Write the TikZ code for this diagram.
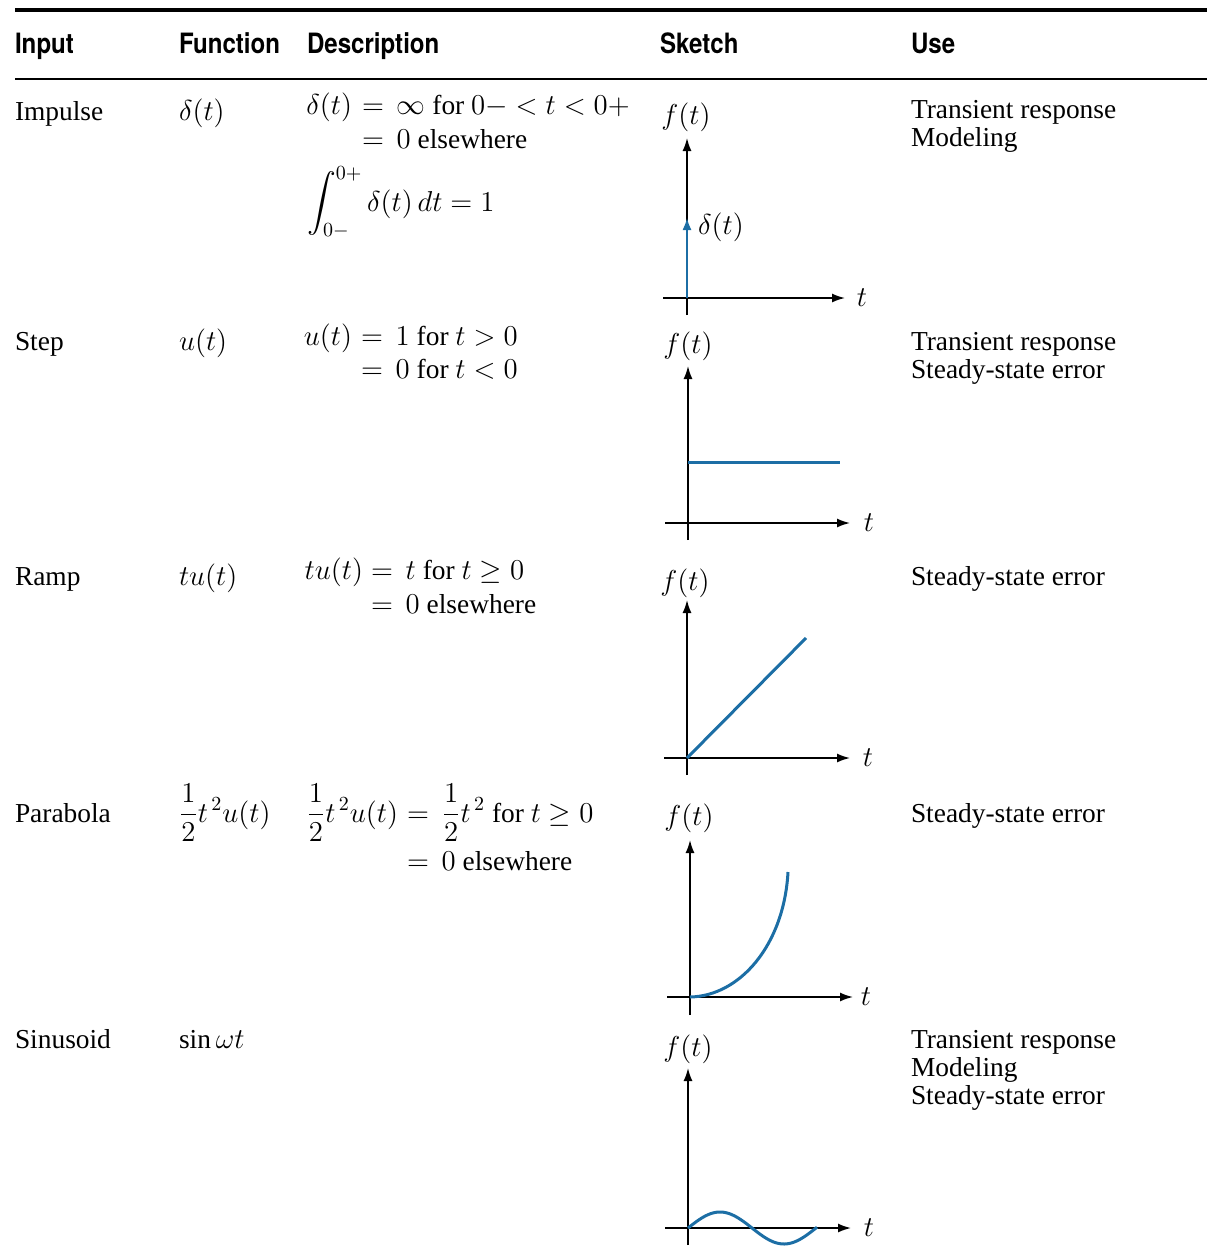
\documentclass[tikz,border=0pt]{standalone}
\usepackage{amsmath}
\usepackage{fontspec}
\setmainfont{Liberation Serif}
\newfontfamily\hdrfont{TeX Gyre Heros}[FakeStretch=0.86]
\usetikzlibrary{arrows.meta}
\definecolor{plotblue}{RGB}{28,110,165}
\begin{document}
\begin{tikzpicture}[x=0.5pt,y=-0.5pt,
  every node/.style={inner sep=0pt,outer sep=0pt,font=\fontsize{13.7}{16}\selectfont},
  hdr/.style={anchor=base west,font=\hdrfont\bfseries\fontsize{14}{16}\selectfont},
  cell/.style={anchor=base west},
  lhs/.style={anchor=base east},
  axisarrow/.style={line width=0.8pt,-{Latex[length=6.5pt,width=4.5pt]}},
  curve/.style={plotblue,line width=1.5pt},
  lbl/.style={anchor=center}]
\useasboundingbox (0,0) rectangle (1207,1258);
% rules
\coordinate (r1a) at (15,10); \coordinate (r1b) at (1207,10);
\coordinate (r2a) at (15,79); \coordinate (r2b) at (1207,79);
\draw[line width=2pt] (r1a) -- (r1b);
\draw[line width=1.4pt] (r2a) -- (r2b);
% headers
\node[hdr] (h1) at (15,54) {Input};
\node[hdr] (h2) at (179,54) {Function};
\node[hdr] (h3) at (307,54) {Description};
\node[hdr] (h4) at (660,54) {Sketch};
\node[hdr] (h5) at (911,54) {Use};
% row 1
\node[cell] (in1) at (15,120) {Impulse};
\node[cell] (fn1) at (179,120) {$\delta(t)$};
\node[lhs] (d1a) at (352,114) {$\delta(t)$};
\node[cell] (d1b) at (362,114) {$=\,\infty$ for $0{-} < t < 0{+}$};
\node[cell] (d1c) at (362,148) {$=\,0$ elsewhere};
\node[cell] (d1d) at (307,211) {$\displaystyle\int_{0-}^{0+}\delta(t)\,dt = 1$};
\node[cell] (u1a) at (911,118) {Transient response};
\node[cell] (u1b) at (911,146) {Modeling};
% row 2
\node[cell] (in2) at (15,350) {Step};
\node[cell] (fn2) at (179,350) {$u(t)$};
\node[lhs] (d2a) at (352,345) {$u(t)$};
\node[cell] (d2b) at (361,345) {$=\,1$ for $t>0$};
\node[cell] (d2c) at (361,378) {$=\,0$ for $t<0$};
\node[cell] (u2a) at (911,350) {Transient response};
\node[cell] (u2b) at (911,378) {Steady-state error};
% row 3
\node[cell] (in3) at (15,585) {Ramp};
\node[cell] (fn3) at (179,585) {$tu(t)$};
\node[lhs] (d3a) at (363,579) {$tu(t)$};
\node[cell] (d3b) at (371,579) {$=\,t$ for $t \geq 0$};
\node[cell] (d3c) at (371,613) {$=\,0$ elsewhere};
\node[cell] (u3a) at (911,585) {Steady-state error};
% row 4
\node[cell] (in4) at (15,822) {Parabola};
\node[cell] (fn4) at (179,822) {$\displaystyle\frac{1}{2}t^{\,2}u(t)$};
\node[lhs] (d4a) at (398,822) {$\displaystyle\frac{1}{2}t^{\,2}u(t)$};
\node[cell] (d4b) at (407,822) {$=\,\displaystyle\frac{1}{2}t^{\,2}$ for $t \geq 0$};
\node[cell] (d4c) at (407,870) {$=\,0$ elsewhere};
\node[cell] (u4a) at (911,822) {Steady-state error};
% row 5
\node[cell] (in5) at (15,1048) {Sinusoid};
\node[cell] (fn5) at (179,1048) {$\sin\omega t$};
\node[cell] (u5a) at (911,1048) {Transient response};
\node[cell] (u5b) at (911,1076) {Modeling};
\node[cell] (u5c) at (911,1104) {Steady-state error};
% sketch 1: impulse
\coordinate (s1b) at (687,315); \coordinate (s1t) at (687,138);
\coordinate (s1l) at (663,298); \coordinate (s1r) at (845,298);
\coordinate (s1o) at (687,298); \coordinate (s1i) at (687,218);
\draw[axisarrow] (s1b) -- (s1t);
\draw[axisarrow] (s1l) -- (s1r);
\draw[plotblue,line width=0.8pt,-{Latex[length=6pt,width=4.5pt]}] (s1o) -- (s1i);
\node[lbl] (s1f) at (686,117) {$f(t)$};
\node[lbl] (s1x) at (862,298) {$t$};
\node[lbl] (s1d) at (721,227) {$\delta(t)$};
% sketch 2: step
\coordinate (s2b) at (688,540); \coordinate (s2t) at (688,366);
\coordinate (s2l) at (665,523); \coordinate (s2r) at (850,523);
\coordinate (s2p) at (688,462); \coordinate (s2q) at (840,462);
\draw[axisarrow] (s2b) -- (s2t);
\draw[axisarrow] (s2l) -- (s2r);
\draw[curve] (s2p) -- (s2q);
\node[lbl] (s2f) at (688,346) {$f(t)$};
\node[lbl] (s2x) at (869,523) {$t$};
% sketch 3: ramp
\coordinate (s3b) at (687,775); \coordinate (s3t) at (687,600);
\coordinate (s3l) at (664,758); \coordinate (s3r) at (850,758);
\coordinate (s3o) at (687,758); \coordinate (s3e) at (806,638);
\draw[axisarrow] (s3b) -- (s3t);
\draw[axisarrow] (s3l) -- (s3r);
\draw[curve] (s3o) -- (s3e);
\node[lbl] (s3f) at (685,583) {$f(t)$};
\node[lbl] (s3x) at (868,758) {$t$};
% sketch 4: parabola
\coordinate (s4b) at (690,1015); \coordinate (s4t) at (690,840);
\coordinate (s4l) at (667,997); \coordinate (s4r) at (853,997);
\coordinate (s4o) at (690,997); \coordinate (s4e) at (788,872);
\draw[axisarrow] (s4b) -- (s4t);
\draw[axisarrow] (s4l) -- (s4r);
\draw[curve] (s4o) .. controls (740,996) and (784,945) .. (s4e);
\node[lbl] (s4f) at (689,818) {$f(t)$};
\node[lbl] (s4x) at (866,997) {$t$};
% sketch 5: sinusoid
\coordinate (s5b) at (688,1245); \coordinate (s5t) at (688,1068);
\coordinate (s5l) at (665,1228); \coordinate (s5r) at (851,1228);
\draw[axisarrow] (s5b) -- (s5t);
\draw[axisarrow] (s5l) -- (s5r);
\draw[curve] plot[domain=0:129,samples=60,smooth] ({688+\x},{1228-16*sin(\x*2.8125)});
\node[lbl] (s5f) at (688,1049) {$f(t)$};
\node[lbl] (s5x) at (869,1228) {$t$};
\end{tikzpicture}
\end{document}
